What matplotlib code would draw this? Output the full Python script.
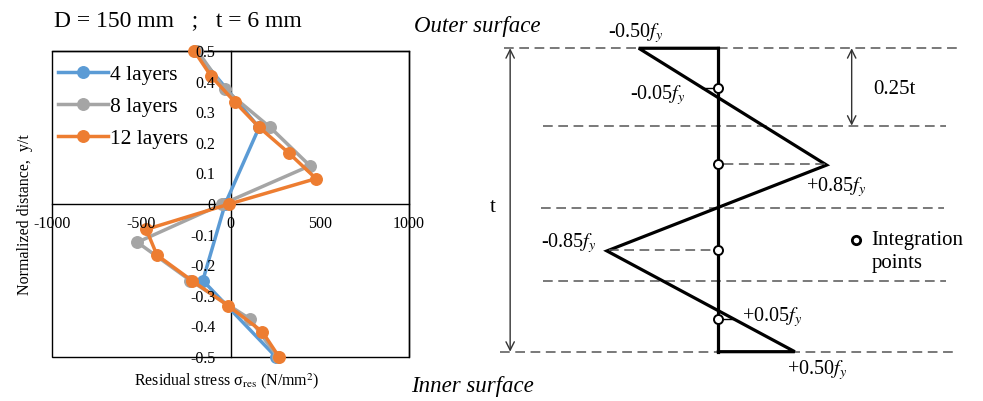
import numpy as np
import matplotlib
matplotlib.use('Agg')
import matplotlib.pyplot as plt
from matplotlib.patches import Rectangle

plt.rcParams['font.family'] = ['Liberation Serif', 'DejaVu Serif']
plt.rcParams['mathtext.fontset'] = 'stix'
plt.rcParams['axes.unicode_minus'] = False
plt.rcParams['lines.scale_dashes'] = False

# --- left chart: residual stress through thickness ---
y4 = [0.5, 0.25, 0, -0.25, -0.5]
s4 = [-200, 160, -30, -155, 255]
y8 = [0.5, 0.375, 0.25, 0.125, 0, -0.125, -0.25, -0.375, -0.5]
s8 = [-185, -33, 223, 445, -45, -522, -225, 107, 265]
y12 = [0.5, 0.417, 0.333, 0.25, 0.167, 0.083, 0, -0.083, -0.167, -0.25, -0.333, -0.417, -0.5]
s12 = [-203, -108, 25, 162, 326, 479, -7, -472, -412, -217, -12, 178, 272]

xticks = [-1000, -500, 0, 500, 1000]
yticks = [0.5, 0.4, 0.3, 0.2, 0.1, 0, -0.1, -0.2, -0.3, -0.4, -0.5]
ytick_labels = ['0.5', '0.4', '0.3', '0.2', '0.1', '0', '-0.1', '-0.2', '-0.3', '-0.4', '-0.5']

# --- right sketch: assumed stress pattern (in fy units, drawn shape) ---
prof_x = [0, -0.50, 0.68, -0.70, 0.48, 0]
prof_y = [0.5, 0.5, 0.115, -0.168, -0.5, -0.5]
layer_y = [0.5, 0.245, -0.025, -0.266, -0.5]
int_y = [0.370, 0.119, -0.165, -0.393]

fig = plt.figure(figsize=(9.83, 4.01), dpi=100)

ax = fig.add_axes([52/983, 1 - 357/401, 357/983, 306/401])
ax.plot(s4, y4, color='#5B9BD5', lw=2.5, marker='o', ms=8.3, label='4 layers', clip_on=False)
ax.plot(s8, y8, color='#A5A5A5', lw=2.5, marker='o', ms=8.3, label='8 layers', clip_on=False)
ax.plot(s12, y12, color='#ED7D31', lw=2.5, marker='o', ms=8.3, label='12 layers', clip_on=False)
ax.set_xlim(-1000, 1000)
ax.set_ylim(-0.5, 0.5)
ax.set_axisbelow(False)
ax.spines['left'].set_position(('data', 0))
ax.spines['bottom'].set_position(('data', 0))
for sp in ax.spines.values():
    sp.set_linewidth(1.0)
    sp.set_color('black')
    sp.set_zorder(1.5)
ax.add_patch(Rectangle((0, 0), 1, 1, transform=ax.transAxes, fill=False,
                       lw=1.0, ec='black', clip_on=False, zorder=0.5))
ax.set_xticks(xticks)
ax.set_xticklabels([str(v) for v in xticks])
ax.set_yticks(yticks)
ax.set_yticklabels(ytick_labels)
ax.tick_params(axis='x', length=0, pad=9, labelsize=11.5)
ax.tick_params(axis='y', length=0, pad=11, labelsize=11.5)
for lbl in ax.get_xticklabels() + ax.get_yticklabels():
    lbl.set_clip_on(False)
ax.legend(loc='upper left', bbox_to_anchor=(0.017, 0.955), frameon=False,
          borderpad=0, borderaxespad=0, handlelength=2.3, handletextpad=0.1,
          labelspacing=0.55, numpoints=1, fontsize=15.5)

fig.text(54/983, 1 - 21/401, 'D = 150 mm   ;   t = 6 mm', fontsize=17, va='center', ha='left')
fig.text(25/983, 1 - 215/401, 'Normalized distance,  y/t', fontsize=11.5,
         rotation=90, va='center', ha='center')
fig.text(227/983, 1 - 381/401, r'Residual stress σ$_{\mathrm{res}}$ (N/mm$^{2}$)',
         fontsize=11.5, va='center', ha='center')

# --- sketch axes: x in fy (160 px per fy), y in y/t ---
ax2 = fig.add_axes([400/983, 0, 583/983, 1])
ax2.set_xlim(-2.0, 1.6625)
ax2.set_ylim(-0.6625, 0.659)
ax2.axis('off')

dash_x0 = [-1.344, -1.104, -1.114, -1.104, -1.371]
dash_x1 = [1.511, 1.427, 1.417, 1.427, 1.479]
for yy, a, b in zip(layer_y, dash_x0, dash_x1):
    ax2.plot([a, b], [yy, yy], color='#555555', lw=1.1, ls=(0, (7, 4)))

ax2.plot(prof_x, prof_y, color='black', lw=2.3, solid_joinstyle='miter')
ax2.plot([0, 0], [prof_y[0], prof_y[-1]], color='black', lw=2.3)

zig_y = prof_y[1:5][::-1]
zig_x = prof_x[1:5][::-1]
for i, yy in enumerate(int_y):
    xp = np.interp(yy, zig_y, zig_x)
    if i in (0, 3):
        ax2.plot([xp, 0], [yy, yy], color='black', lw=1.0)
    else:
        ax2.plot([xp, 0], [yy, yy], color='#555555', lw=1.1, ls=(0, (7, 4)))
ax2.plot([0] * len(int_y), int_y, ls='none', marker='o', ms=6.5, mfc='white',
         mec='black', mew=1.4, zorder=5)

arrow = dict(arrowstyle='<->,head_length=0.6,head_width=0.3', lw=1.0,
             color='#333333', shrinkA=0, shrinkB=0)
ax2.annotate('', xy=(-1.308, 0.5), xytext=(-1.308, -0.5), arrowprops=arrow)
ax2.annotate('', xy=(0.8375, 0.5), xytext=(0.8375, 0.245), arrowprops=arrow)

fs = 14.5
ax2.text(-0.522, 0.549, r'-0.50$f_y$', fontsize=fs, ha='center', va='center')
ax2.text(-0.381, 0.346, r'-0.05$f_y$', fontsize=fs, ha='center', va='center')
ax2.text(0.7375, 0.044, r'+0.85$f_y$', fontsize=fs, ha='center', va='center')
ax2.text(-0.9375, -0.143, r'-0.85$f_y$', fontsize=fs, ha='center', va='center')
ax2.text(0.3375, -0.385, r'+0.05$f_y$', fontsize=fs, ha='center', va='center')
ax2.text(0.619, -0.560, r'+0.50$f_y$', fontsize=fs, ha='center', va='center')
ax2.text(1.106, 0.3626, '0.25t', fontsize=15, ha='center', va='center')
ax2.text(-1.42, -0.024, 't', fontsize=15, ha='center', va='center')
ax2.plot([0.864], [-0.132], marker='o', ms=6, mfc='white', mec='black', mew=2)
ax2.text(0.9625, -0.134, 'Integration', fontsize=15, ha='left', va='center')
ax2.text(0.9625, -0.211, 'points', fontsize=15, ha='left', va='center')
ax2.text(-1.9125, 0.571, 'Outer surface', fontsize=16.5, style='italic', ha='left', va='center')
ax2.text(-1.93, -0.615, 'Inner surface', fontsize=16.5, style='italic', ha='left', va='center')

fig.savefig('out.png', dpi=100)
